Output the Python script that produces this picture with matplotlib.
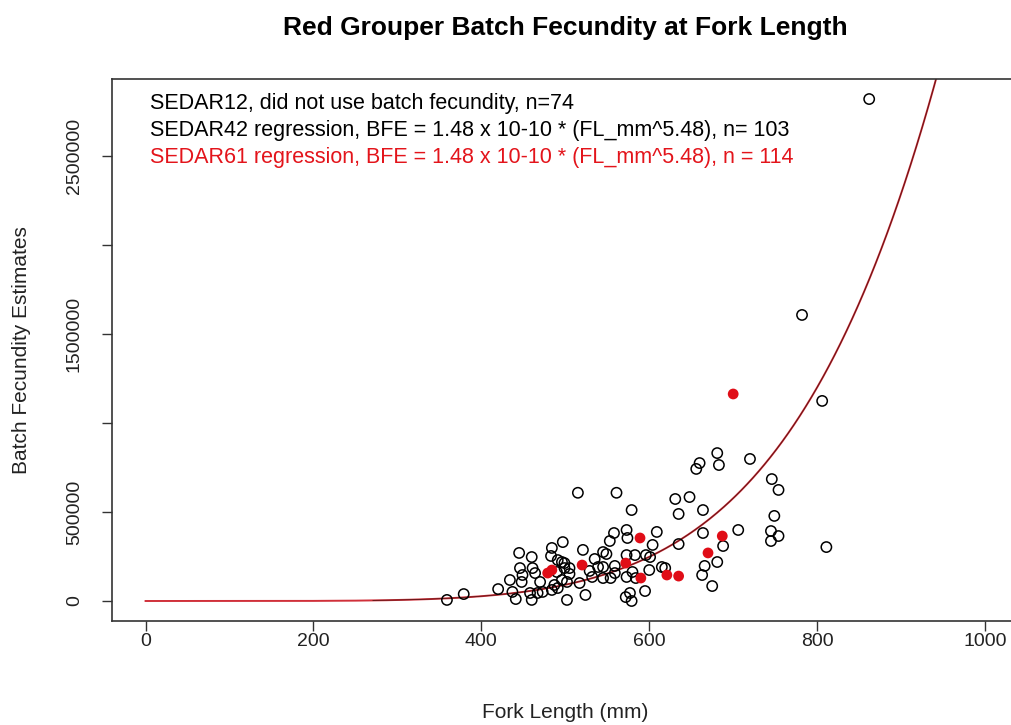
import numpy as np
import matplotlib
matplotlib.use("Agg")
from matplotlib import pyplot as plt

plt.rcParams["font.family"] = ["Liberation Sans", "DejaVu Sans"]

# old batch fecundity observations (fork length mm, eggs)
fl_old = [359, 379, 420, 437, 441, 445, 446, 434, 448, 449, 458, 460, 460, 461,
          464, 470, 467, 473, 484, 497, 483, 491, 496, 499, 490, 499, 505, 496,
          502, 487, 491, 484, 502, 521, 515, 505, 517, 524, 529, 532, 535, 539,
          545, 549, 545, 554, 545, 553, 558, 559, 559, 561, 573, 574, 573, 583,
          573, 580, 584, 572, 577, 579, 595, 596, 601, 600, 579, 604, 609, 615,
          619, 631, 635, 635, 648, 656, 660, 664, 664, 663, 666, 675, 681, 681,
          683, 688, 706, 720, 746, 754, 749, 745, 754, 745, 782, 806, 811, 862]
bfe_old = [6000, 39000, 67000, 51000, 11000, 270000, 185000, 118000, 107000,
           146000, 45000, 6000, 247000, 185000, 157000, 107000, 45000, 51000,
           298000, 331000, 253000, 230000, 219000, 213000, 163000, 185000,
           185000, 118000, 107000, 90000, 73000, 62000, 6000, 287000, 608000,
           152000, 101000, 34000, 169000, 135000, 236000, 191000, 275000,
           264000, 129000, 129000, 191000, 337000, 382000, 197000, 157000,
           608000, 399000, 354000, 258000, 258000, 135000, 163000, 129000,
           22000, 45000, 0, 56000, 258000, 247000, 174000, 511000, 315000,
           388000, 191000, 185000, 573000, 489000, 320000, 584000, 742000,
           775000, 511000, 382000, 146000, 197000, 84000, 831000, 219000,
           764000, 309000, 399000, 798000, 685000, 624000, 478000, 393000,
           365000, 337000, 1607000, 1124000, 303000, 2820000]

# new SEDAR61 observations
fl_new = [479, 484, 520, 572, 589, 590, 621, 635, 670, 687, 700]
bfe_new = [157000, 174000, 202000, 213000, 354000, 129000, 146000, 140000,
           270000, 365000, 1163000]

# regression from the legend: BFE = 1.48e-10 * FL^5.48
coef_a = 1.48e-10
coef_b = 5.48

legend_lines = [
    ("SEDAR12, did not use batch fecundity, n=74", "black"),
    ("SEDAR42 regression, BFE = 1.48 x 10-10 * (FL_mm^5.48), n= 103", "black"),
    ("SEDAR61 regression, BFE = 1.48 x 10-10 * (FL_mm^5.48), n = 114", "#e3141b"),
]

fig = plt.figure(figsize=(10.12, 7.25), dpi=100)
ax = fig.add_axes([112 / 1012, 104 / 725, 906.6 / 1012, 542 / 725])

fl_curve = np.linspace(0, 1040, 600)
ax.plot(fl_curve, coef_a * fl_curve ** coef_b, color="#d0303a", lw=1.4, zorder=1)
fl_dark = fl_curve[fl_curve >= 270]
ax.plot(fl_dark, coef_a * fl_dark ** coef_b, color="#5a1414", lw=0.6, zorder=2)

ax.scatter(fl_old, bfe_old, s=55, facecolors="none", edgecolors="black",
           linewidths=1.1, zorder=3)
ax.scatter(fl_new, bfe_new, s=60, color="#e00d17", edgecolors="none", zorder=4)

ax.set_xlim(-40, 1040)
ax.set_ylim(-112360, 2932600)
ax.set_xticks([0, 200, 400, 600, 800, 1000])
ax.set_yticks([0, 500000, 1000000, 1500000, 2000000, 2500000])
ax.set_yticklabels(["0", "500000", "", "1500000", "", "2500000"],
                   rotation=90, va="center")
ax.tick_params(axis="both", direction="out", length=7, width=1,
               color="#333333", labelsize=14, labelcolor="#222222")
ax.tick_params(axis="x", pad=2)
ax.tick_params(axis="y", pad=14)

for side in ax.spines.values():
    side.set_color("#333333")
    side.set_linewidth(1.2)

fig.text(565 / 1012, 1 - 712 / 725, "Fork Length (mm)", ha="center",
         va="center", fontsize=15, color="#222222")
fig.text(22 / 1012, 1 - 350 / 725, "Batch Fecundity Estimates", ha="center",
         va="center", rotation=90, fontsize=15, color="#222222")
fig.text(565 / 1012, 1 - 28 / 725, "Red Grouper Batch Fecundity at Fork Length",
         ha="center", va="center", fontsize=19, fontweight="bold")

for i, (txt, col) in enumerate(legend_lines):
    fig.text(150 / 1012, 1 - (103 + 27.5 * i) / 725, txt, ha="left",
             va="center", fontsize=15.5, color=col)

fig.savefig("out.png", dpi=100)
